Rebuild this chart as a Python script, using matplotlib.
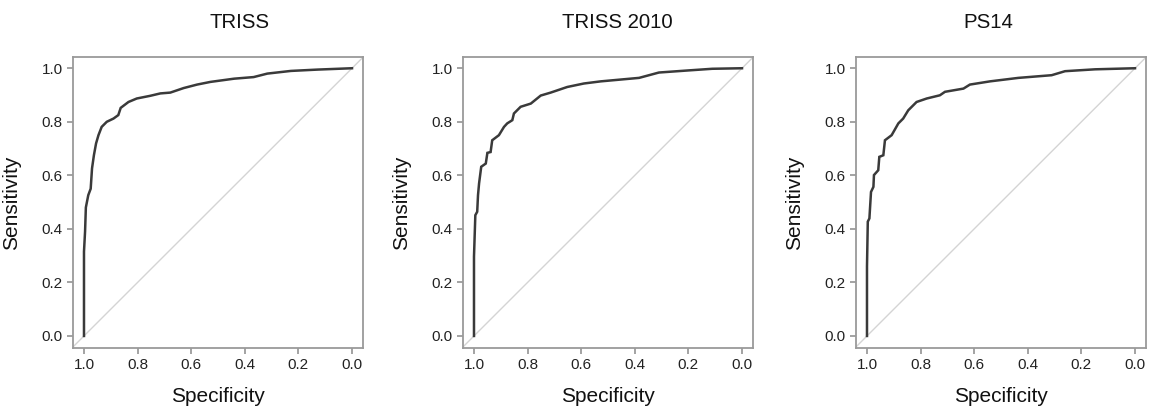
import matplotlib
matplotlib.use("Agg")
import matplotlib.pyplot as plt

plt.rcParams['font.family'] = ['Liberation Sans', 'DejaVu Sans']

titles = ["TRISS", "TRISS 2010", "PS14"]

triss_spec = [1.0, 1.0, 0.996, 0.993, 0.984, 0.975, 0.97, 0.963, 0.955, 0.946, 0.934,
              0.915, 0.89, 0.872, 0.863, 0.834, 0.803, 0.753, 0.715, 0.678, 0.628,
              0.578, 0.528, 0.44, 0.367, 0.316, 0.228, 0.128, 0.0]
triss_sens = [0.0, 0.315, 0.39, 0.48, 0.526, 0.55, 0.626, 0.675, 0.719, 0.75, 0.781,
              0.80, 0.812, 0.825, 0.852, 0.874, 0.887, 0.897, 0.906, 0.909, 0.926,
              0.939, 0.949, 0.961, 0.967, 0.98, 0.99, 0.995, 1.0]

triss2010_spec = [1.0, 1.0, 0.995, 0.988, 0.985, 0.981, 0.973, 0.956, 0.95, 0.938, 0.932,
                  0.907, 0.888, 0.876, 0.857, 0.851, 0.826, 0.788, 0.751, 0.714, 0.652,
                  0.59, 0.527, 0.384, 0.31, 0.198, 0.111, 0.0]
triss2010_sens = [0.0, 0.296, 0.451, 0.464, 0.526, 0.57, 0.632, 0.644, 0.684, 0.687, 0.731,
                  0.75, 0.781, 0.794, 0.806, 0.831, 0.856, 0.868, 0.898, 0.909, 0.93,
                  0.943, 0.951, 0.964, 0.984, 0.992, 0.998, 1.0]

ps14_spec = [1.0, 1.0, 0.997, 0.991, 0.985, 0.976, 0.974, 0.958, 0.954, 0.939, 0.933,
             0.908, 0.883, 0.865, 0.846, 0.815, 0.777, 0.728, 0.709, 0.64, 0.616,
             0.541, 0.435, 0.311, 0.261, 0.149, 0.0]
ps14_sens = [0.0, 0.259, 0.427, 0.439, 0.538, 0.557, 0.601, 0.619, 0.669, 0.675, 0.731,
             0.75, 0.794, 0.812, 0.843, 0.874, 0.887, 0.899, 0.912, 0.924, 0.939,
             0.951, 0.964, 0.974, 0.989, 0.996, 1.0]

x_ticks = [1.0, 0.8, 0.6, 0.4, 0.2, 0.0]
y_ticks = [0.0, 0.2, 0.4, 0.6, 0.8, 1.0]
tick_labels_x = ["1.0", "0.8", "0.6", "0.4", "0.2", "0.0"]
tick_labels_y = ["0.0", "0.2", "0.4", "0.6", "0.8", "1.0"]

curves = [(triss_spec, triss_sens), (triss2010_spec, triss2010_sens), (ps14_spec, ps14_sens)]

W, H = 1151, 412
fig = plt.figure(figsize=(W / 100, H / 100), dpi=100)

lefts = [73, 463, 856]
title_x = [240, 617, 988]
ax_w = 290
top_px, bot_px = 57, 348

for i in range(3):
    ax = fig.add_axes([lefts[i] / W, (H - bot_px) / H, ax_w / W, (bot_px - top_px) / H])
    spec, sens = curves[i]
    ax.axline((1, 0), (0, 1), color="#d4d4d4", lw=1.0, zorder=1)
    ax.plot(spec, sens, color="#3a3a3a", lw=1.8, zorder=2, solid_joinstyle="miter")
    ax.set_xlim(1.041, -0.041)
    ax.set_ylim(-0.045, 1.042)
    ax.set_xticks(x_ticks)
    ax.set_xticklabels(tick_labels_x)
    ax.set_yticks(y_ticks)
    ax.set_yticklabels(tick_labels_y)
    ax.tick_params(axis="both", direction="out", length=4.5, width=1.1, color="#8a8a8a",
                   labelsize=11, labelcolor="#222222", pad=3)
    for s in ax.spines.values():
        s.set_color("#9a9a9a")
        s.set_linewidth(1.3)
    ax.set_xlabel("Specificity", fontsize=15, color="#111111")
    ax.set_ylabel("Sensitivity", fontsize=15, color="#111111")
    ax.xaxis.set_label_coords(0.5, -0.135)
    ax.yaxis.set_label_coords(-0.178, 0.5)
    fig.text(title_x[i] / W, 1 - 22.5 / H, titles[i], fontsize=14.7, ha="center",
             va="center", color="#111111")

fig.savefig("out.png", dpi=100, facecolor="white")
